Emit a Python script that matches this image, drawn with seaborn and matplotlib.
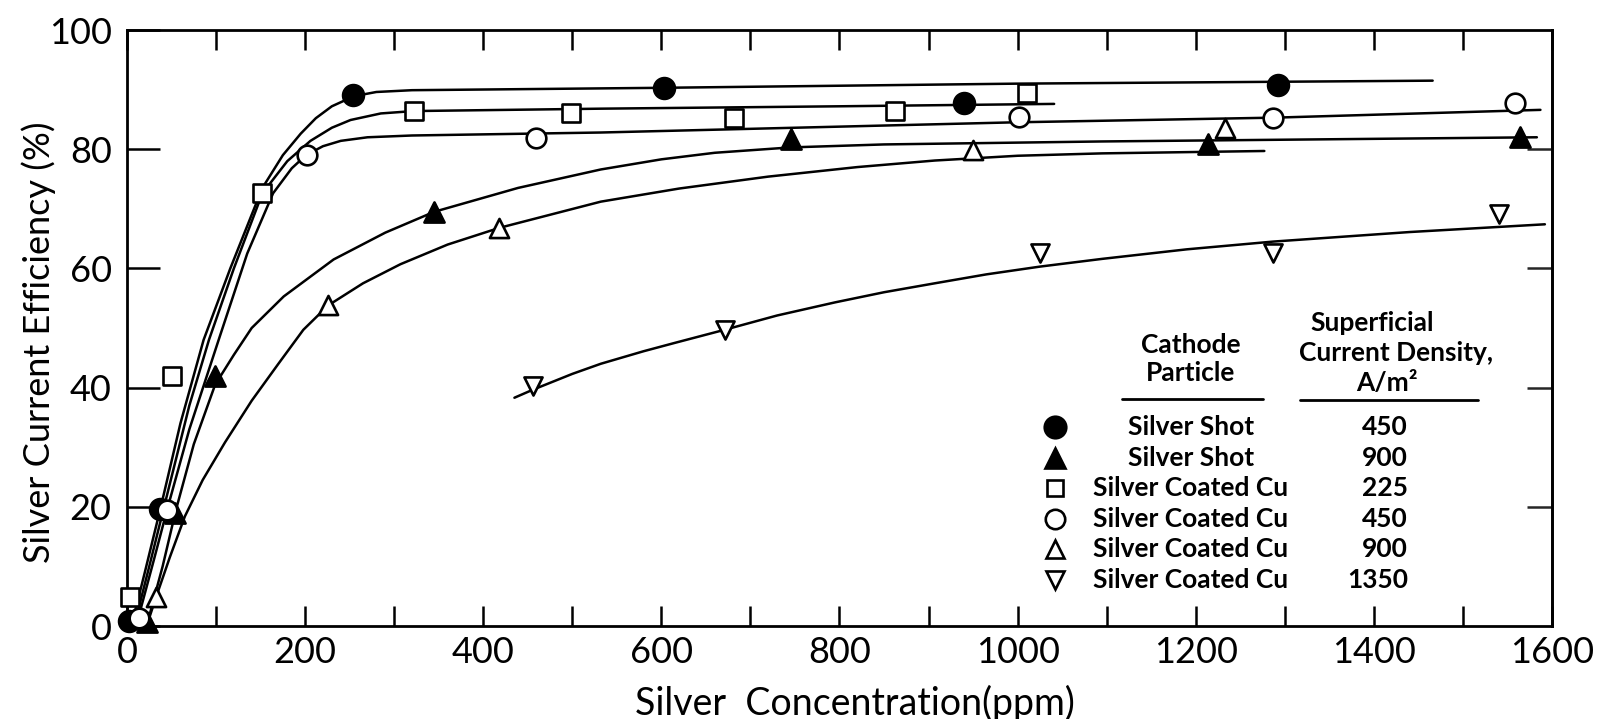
import matplotlib
matplotlib.use("Agg")
import matplotlib.pyplot as plt
import numpy as np
import pandas as pd
import seaborn as sns
from matplotlib.lines import Line2D

# ---- measured points -------------------------------------------------------
shot450_x = [2, 37, 254, 603, 940, 1292]
shot450_y = [0.8, 19.7, 89.1, 90.3, 87.8, 90.8]

shot900_x = [23, 54, 99, 345, 745, 1214, 1564]
shot900_y = [0.6, 19.0, 41.9, 69.5, 81.7, 80.8, 82.0]

coated225_x = [3, 50, 152, 322, 499, 681, 862, 1010]
coated225_y = [4.9, 41.9, 72.6, 86.4, 86.0, 85.2, 86.4, 89.4]

coated450_x = [13, 45, 202, 459, 1001, 1287, 1559]
coated450_y = [1.3, 19.5, 79.0, 81.8, 85.4, 85.3, 87.8]

coated900_x = [33, 226, 418, 950, 1233]
coated900_y = [4.9, 53.8, 66.8, 79.8, 83.5]

coated1350_x = [456, 671, 1025, 1287, 1541]
coated1350_y = [40.2, 49.7, 62.6, 62.6, 69.1]

# ---- hand-fitted curves ----------------------------------------------------
fit_shot450_x = [5, 20, 38, 60, 86, 116, 152, 175, 195, 212, 230, 255, 280, 320, 600, 1000, 1466]
fit_shot450_y = [0, 9, 20, 34, 48, 60, 73.5, 79, 82.6, 85.2, 87.2, 88.9, 89.6, 89.9, 90.3, 91.0, 91.5]

fit_coated225_x = [8, 25, 45, 70, 92, 120, 152, 180, 206, 230, 251, 285, 322, 532, 800, 1041]
fit_coated225_y = [0, 10, 22, 37, 48, 60, 72.6, 78, 81.4, 83.6, 84.9, 86.0, 86.4, 86.8, 87.2, 87.6]

fit_coated450_x = [12, 30, 45, 70, 104, 135, 164, 185, 201, 220, 240, 270, 320, 532, 994, 1290, 1587]
fit_coated450_y = [1, 11, 19.5, 33, 48.5, 62.5, 72.6, 76.8, 79, 80.5, 81.4, 82.0, 82.3, 82.8, 84.5, 85.3, 86.6]

fit_shot900_x = [22, 40, 55, 75, 99, 120, 140, 176, 232, 290, 345, 439, 532, 600, 660, 745, 850, 1095, 1583]
fit_shot900_y = [0, 10, 19.5, 30.5, 40.5, 45.5, 50, 55.3, 61.5, 66, 69.5, 73.5, 76.6, 78.3, 79.4, 80.3, 80.8, 81.3, 82.0]

fit_coated900_x = [22, 33, 48, 65, 85, 110, 140, 170, 198, 226, 265, 307, 360, 418, 532, 620,
                   720, 820, 907, 1000, 1095, 1277]
fit_coated900_y = [0, 5, 11.5, 18.4, 24.5, 30.8, 37.8, 44, 49.7, 53.8, 57.5, 60.7, 64, 66.8, 71.2, 73.4,
                   75.4, 77.0, 78.1, 78.9, 79.3, 79.7]

fit_coated1350_x = [435, 455, 500, 532, 580, 615, 671, 730, 795, 850, 907, 965, 1025, 1095, 1190,
                    1287, 1440, 1592]
fit_coated1350_y = [38.3, 39.6, 42.3, 44.0, 46.1, 47.5, 49.7, 52.1, 54.3, 56.0, 57.5, 59.0, 60.3, 61.6,
                    63.2, 64.5, 66.1, 67.4]

# ---- legend table text ------------------------------------------------------
particle_names = ["Silver Shot", "Silver Shot", "Silver Coated Cu",
                  "Silver Coated Cu", "Silver Coated Cu", "Silver Coated Cu"]
density_values = ["450", "900", "225", "450", "900", "1350"]

x_ticks = list(range(0, 1601, 200))
x_minor = list(range(100, 1600, 200))
y_ticks = list(range(0, 101, 20))

# ---- styling ----------------------------------------------------------------
sns.set_theme(style="white")
plt.rcParams["font.family"] = ["Lato", "DejaVu Sans"]

W, H = 1602, 719
fig = plt.figure(figsize=(W / 100, H / 100), dpi=100)
L, R, T, B = 127, 1552, 30, 626
ax = fig.add_axes([L / W, 1 - B / H, (R - L) / W, (B - T) / H])

LW = 1.8
series = [
    # (points x, points y, fit x, fit y, marker, size, face)
    (shot450_x, shot450_y, fit_shot450_x, fit_shot450_y, "o", 225, "black"),
    (shot900_x, shot900_y, fit_shot900_x, fit_shot900_y, "^", 210, "black"),
    (coated225_x, coated225_y, fit_coated225_x, fit_coated225_y, "s", 150, "white"),
    (coated450_x, coated450_y, fit_coated450_x, fit_coated450_y, "o", 200, "white"),
    (coated900_x, coated900_y, fit_coated900_x, fit_coated900_y, "^", 190, "white"),
    (coated1350_x, coated1350_y, fit_coated1350_x, fit_coated1350_y, "v", 170, "white"),
]

for px, py, fx, fy, mk, sz, face in series:
    fit = pd.DataFrame({"ppm": fx, "eff": fy})
    sns.lineplot(data=fit, x="ppm", y="eff", sort=False, estimator=None,
                 color="black", linewidth=LW, ax=ax, zorder=2)
for px, py, fx, fy, mk, sz, face in series:
    pts = pd.DataFrame({"ppm": px, "eff": py})
    sns.scatterplot(data=pts, x="ppm", y="eff", marker=mk, s=sz, color=face,
                    edgecolor="black", linewidth=1.9, ax=ax, zorder=4,
                    clip_on=False)

ax.set_xlim(0, 1600)
ax.set_ylim(0, 100)
ax.set_xticks(x_ticks)
ax.set_xticks(x_minor, minor=True)
ax.set_yticks(y_ticks)
ax.set_xticklabels([str(v) for v in x_ticks])
ax.set_yticklabels([str(v) for v in y_ticks])

for s in ax.spines.values():
    s.set_linewidth(2.0)
    s.set_color("black")

ax.tick_params(axis="x", which="both", direction="in", length=14.5, width=1.8,
               top=True, bottom=True, labelsize=26, pad=7, colors="black")
ax.tick_params(axis="y", which="major", direction="in", length=24, width=1.8,
               left=True, right=False, labelsize=26, pad=11, colors="black")
# right-side ticks at the interior gridlines
ax2 = ax.secondary_yaxis("right")
ax2.set_yticks([20, 40, 60, 80])
ax2.tick_params(direction="in", length=18, width=1.8, labelright=False)
ax2.spines["right"].set_linewidth(2.0)

ax.set_xlabel("Silver  Concentration(ppm)", fontsize=27, color="black")
ax.set_ylabel("Silver Current Efficiency (%)", fontsize=26, color="black")
ax.xaxis.label.set_va("center")
ax.yaxis.label.set_va("center")
ax.xaxis.set_label_coords((855 - L) / (R - L), (B - 703) / (B - T))
ax.yaxis.set_label_coords((39 - L) / (R - L), (B - 342) / (B - T))


# ---- table-style legend ----------------------------------------------------
def fx_(x):
    return x / W


def fy_(y):
    return 1 - y / H


tf = fig.transFigure
hdr_kw = dict(transform=tf, fontsize=19, ha="center", va="center",
              color="black", fontweight="bold")
fig.text(fx_(1191), fy_(345), "Cathode", **hdr_kw)
fig.text(fx_(1191), fy_(373), "Particle", **hdr_kw)
fig.text(fx_(1372), fy_(323), "Superficial", **hdr_kw)
fig.text(fx_(1396), fy_(353), "Current Density,", **hdr_kw)
fig.text(fx_(1387), fy_(383), "A/m²", **hdr_kw)
fig.add_artist(Line2D([fx_(1122), fx_(1263)], [fy_(399), fy_(399)],
                      transform=tf, color="black", lw=2.0))
fig.add_artist(Line2D([fx_(1300), fx_(1478)], [fy_(400), fy_(400)],
                      transform=tf, color="black", lw=2.0))

legend_ms = [15.5, 14, 12, 14, 13.5, 13]
for i, (name, val) in enumerate(zip(particle_names, density_values)):
    yrow = 427 + i * 30.6
    mk, face = series[i][4], series[i][6]
    fig.add_artist(Line2D([fx_(1055)], [fy_(yrow)], transform=tf, marker=mk,
                          markersize=legend_ms[i], markerfacecolor=face,
                          markeredgecolor="black", markeredgewidth=1.9,
                          linestyle="none"))
    fig.text(fx_(1191), fy_(yrow), name, transform=tf, fontsize=19,
             ha="center", va="center", color="black", fontweight="bold")
    fig.text(fx_(1408), fy_(yrow), val, transform=tf, fontsize=19,
             ha="right", va="center", color="black", fontweight="bold")

fig.savefig("out.png", dpi=100, facecolor="white")
